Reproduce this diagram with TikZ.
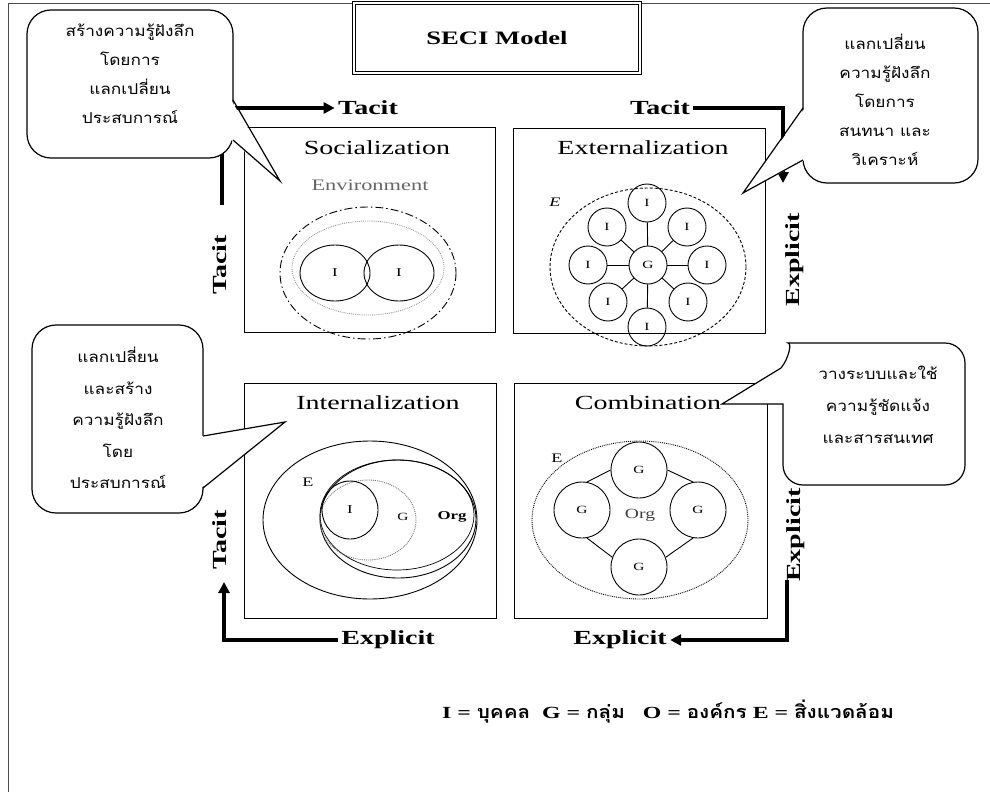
\documentclass[tikz,border=0pt]{standalone}
\usepackage{fontspec}
\setmainfont{Liberation Serif}[FakeStretch=1.4]
\newfontfamily\thaifont{Loma}[Script=Thai, FakeStretch=1.15]
\usetikzlibrary{arrows.meta,shapes.geometric}
\newcommand{\legth}[1]{{\thaifont\bfseries\fontsize{18}{20}\selectfont #1}}

\begin{document}
\begin{tikzpicture}[x=1pt,y=-1pt,
  quad/.style={draw, line width=1pt, inner sep=0pt},
  qtitle/.style={font=\fontsize{20}{23}\selectfont},
  axis/.style={font=\fontsize{20}{23}\selectfont\bfseries},
  flow/.style={line width=3.2pt, -{Triangle[length=11pt,width=11pt]}},
  callout/.style={draw, fill=white, line width=1.2pt},
  thai/.style={font=\thaifont\fontsize{15}{29}\selectfont, align=center},
  disc/.style={draw, circle, line width=0.9pt, inner sep=0pt, font=\fontsize{11}{13}\selectfont},
  oval/.style={draw, ellipse, line width=0.9pt, inner sep=0pt, font=\fontsize{12}{14}\selectfont},
  small/.style={font=\fontsize{13}{15}\selectfont}]
\useasboundingbox (0,0) rectangle (990,792);

% page frame
\draw[line width=0.8pt, black!70] (990,3) -- (8,3) -- (8,792);

% title
\node[draw, double, double distance=2pt, line width=0.8pt, minimum width=286pt, minimum height=70pt,
      font=\fontsize{19}{22}\selectfont\bfseries] (title) at (497,38) {SECI Model};

% the four quadrants
\node[quad, minimum width=251pt, minimum height=205pt] (soc) at (369.5,229.5) {};
\node[quad, minimum width=252pt, minimum height=205pt] (ext) at (639,230.5) {};
\node[quad, minimum width=252pt, minimum height=235pt] (int) at (370,500.5) {};
\node[quad, minimum width=253pt, minimum height=235pt] (com) at (640.5,500.5) {};

\node[qtitle] (socT) at (377,148) {Socialization};
\node[qtitle] (extT) at (643,148) {Externalization};
\node[qtitle] (intT) at (378,403) {Internalization};
\node[qtitle] (comT) at (648,403) {Combination};

% Socialization: two individuals sharing an environment
\node[font=\fontsize{16}{18}\selectfont, text=black!60] (env) at (370,185) {Environment};
\draw[line width=0.9pt, dash pattern=on 8pt off 3pt on 1.5pt off 3pt] (368,273) ellipse [x radius=88, y radius=66];
\draw[line width=0.9pt, black!40, densely dotted] (368,268) ellipse [x radius=76, y radius=47];
\node[oval, minimum width=70pt, minimum height=56pt] (s1) at (335,273) {I};
\node[oval, minimum width=70pt, minimum height=56pt] (s2) at (399,273) {I};

% Externalization: group G linked to individuals
\draw[line width=0.9pt, densely dashed] (648,267) ellipse [x radius=98, y radius=79];
\node[font=\fontsize{13}{15}\selectfont\itshape] (extE) at (555,202) {E};
\node[disc, minimum size=38pt] (g) at (648,265) {G};
\foreach \n/\p in {n/{(647,203)}, s/{(647,327)}, w/{(588,265)}, e/{(707,265)},
                   nw/{(607,227)}, ne/{(687,227)}, sw/{(608,302)}, se/{(688,302)}} {
  \node[disc, minimum size=38pt] (x\n) at \p {I};
  \draw[line width=0.9pt] (g) -- (x\n);
}

% Internalization: nested I, G, Org inside E
\draw[line width=0.9pt] (370,520) ellipse [x radius=107, y radius=79];
\draw[line width=0.9pt] (398,519) ellipse [x radius=78, y radius=59];
\draw[line width=0.7pt] (397,515) ellipse [x radius=77, y radius=55];
\draw[line width=0.9pt, black!55, densely dotted] (368,520) ellipse [x radius=48, y radius=40];
\node[oval, minimum width=56pt, minimum height=58pt] (ii) at (350,510) {I};
\node[small] (intE) at (308,482) {E};
\node[font=\fontsize{11}{13}\selectfont] (intG) at (403,517) {G};
\node[font=\fontsize{12}{14}\selectfont\bfseries] (intO) at (452,517) {Org};

% Combination: groups joined inside the organisation
\draw[line width=0.9pt, densely dotted] (640,520) ellipse [x radius=108, y radius=79];
\node[small] (comE) at (557,458) {E};
\node[disc, minimum size=56pt] (gt) at (639,470) {G};
\node[disc, minimum size=56pt] (gb) at (639,567) {G};
\node[disc, minimum size=56pt] (gl) at (582,510) {G};
\node[disc, minimum size=56pt] (gr) at (698,510) {G};
\node[font=\fontsize{14}{16}\selectfont, text=black!75] (comO) at (640,515) {Org};
\draw[line width=0.9pt] (gt.180) -- (gl.80);
\draw[line width=0.9pt] (gt.0) -- (gr.100);
\draw[line width=0.9pt] (gb.160) -- (gl.280);
\draw[line width=0.9pt] (gb.20) -- (gr.260);

% axis labels
\node[axis] (tTop1) at (368,108) {Tacit};
\node[axis] (tTop2) at (660,108) {Tacit};
\node[axis, rotate=90] (tLeft1) at (220,265) {Tacit};
\node[axis, rotate=90] (tLeft2) at (220,540) {Tacit};
\node[axis, rotate=90] (eRight1) at (795,260) {Explicit};
\node[axis, rotate=90] (eRight2) at (796,535) {Explicit};
\node[axis] (eBot1) at (388,640) {Explicit};
\node[axis] (eBot2) at (620,640) {Explicit};

% cycle arrows
\coordinate (a1s) at (222,205);
\coordinate (a2e) at (783,183);
\coordinate (a3e) at (224,582);
\coordinate (a4s) at (787,580);
\draw[flow] (a1s) |- (tTop1.west);
\draw[flow] (tTop2.east) -| (a2e);
\draw[flow] (eBot1.west) -| (a3e);
\draw[flow] (a4s) |- (eBot2.east);

% callout: socialization
\draw[callout, rounded corners=24pt] (27,10) rectangle (233,158);
\fill[white] (231,100) -- (280,181) -- (231,140) -- cycle;
\draw[line width=1.2pt, line join=miter] (233,100) -- (280,181) -- (233,140);
\node[thai] (c1) at (130,74) {สร้างความรู้ฝังลึก\\โดยการ\\แลกเปลี่ยน\\ประสบการณ์};

% callout: externalization
\draw[callout, rounded corners=24pt] (803,8) rectangle (978,183);
\fill[white] (805,108) -- (743,193) -- (805,160) -- cycle;
\draw[line width=1.2pt] (803,108) -- (743,193) -- (803,160);
\node[thai] (c2) at (885,100) {แลกเปลี่ยน\\ความรู้ฝังลึก\\โดยการ\\สนทนา และ\\วิเคราะห์};

% callout: internalization
\draw[callout, rounded corners=24pt] (32,325) rectangle (203,513);
\fill[white] (201,436) -- (285,422) -- (201,488) -- cycle;
\draw[line width=1.2pt] (203,436) -- (285,422) -- (203,488);
\node[thai, font=\thaifont\fontsize{15}{31.5}\selectfont] (c3) at (118,418) {แลกเปลี่ยน\\และสร้าง\\ความรู้ฝังลึก\\โดย\\ประสบการณ์};

% callout: combination
\draw[callout] (722,404) -- (783,404) [rounded corners=20pt] -- (783,485) -- (965,485) -- (965,343)
      -- (808,343) [sharp corners] .. controls (792,343) and (789,358) .. (781,368) -- cycle;
\node[thai, font=\thaifont\fontsize{15}{32}\selectfont] (c4) at (878,405) {วางระบบและใช้\\ความรู้ชัดแจ้ง\\และสารสนเทศ};

% legend
\node[font=\fontsize{17}{20}\selectfont\bfseries] (legend) at (668,712)
  {I = \legth{บุคคล}\ \ G = \legth{กลุ่ม}\ \ \ O = \legth{องค์กร} E = \legth{สิ่งแวดล้อม}};
\end{tikzpicture}
\end{document}
